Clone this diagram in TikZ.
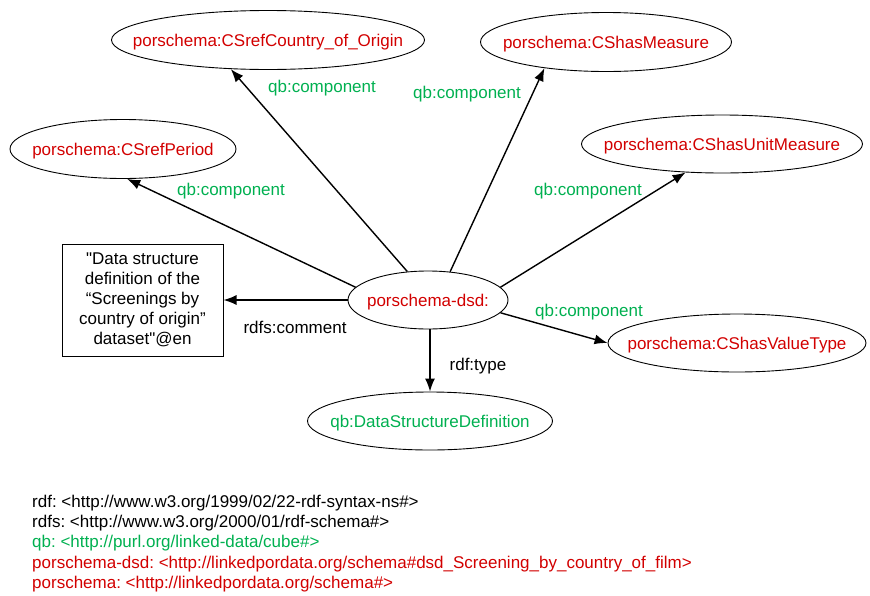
\documentclass[tikz,border=0pt]{standalone}
\usepackage{fontspec}
\setmainfont{Liberation Sans}
\usetikzlibrary{shapes.geometric,arrows.meta}
\definecolor{termred}{RGB}{210,0,0}
\definecolor{termgreen}{RGB}{0,176,80}
\frenchspacing
% label set inside an ellipse of fixed size: the text takes no room
\newcommand\termlabel[1]{\smash{\makebox[0pt]{\raisebox{-6.5pt}{#1}}}}
\tikzset{
  term/.style={ellipse, draw=black, line width=0.9pt, inner sep=0pt,
    font=\fontsize{17}{20}\selectfont, text=termred},
  qbterm/.style={term, text=termgreen},
  literal/.style={rectangle, draw=black, line width=1pt, inner sep=0pt,
    align=center, font=\fontsize{17}{20}\selectfont},
  rel/.style={line width=1.4pt, -{Latex[length=13pt,width=10pt]}},
  rellabel/.style={inner sep=0pt, font=\fontsize{17}{20}\selectfont},
  comp/.style={rellabel, text=termgreen},
  nsline/.style={anchor=base west, inner sep=0pt, font=\fontsize{17}{20}\selectfont}
}
\begin{document}
\begin{tikzpicture}[x=1pt, y=-1pt]
\useasboundingbox (0,0) rectangle (870,595);

% resources
\node[term, minimum width=313, minimum height=59] (country) at (268,40) {\termlabel{porschema:CSrefCountry\_of\_Origin}};
\node[term, minimum width=251, minimum height=59] (measure) at (606,42) {\termlabel{porschema:CShasMeasure}};
\node[term, minimum width=226, minimum height=59] (period) at (123,149) {\termlabel{porschema:CSrefPeriod}};
\node[term, minimum width=281, minimum height=58] (unit) at (722,144) {\termlabel{porschema:CShasUnitMeasure}};
\node[term, minimum width=160, minimum height=58] (dsd) at (428,300) {\termlabel{porschema-dsd:}};
\node[term, minimum width=258, minimum height=58] (valtype) at (737,343) {\termlabel{porschema:CShasValueType}};
\node[qbterm, minimum width=245, minimum height=58] (dsdef) at (430,421) {\termlabel{qb:DataStructureDefinition}};
\node[literal, minimum width=161, minimum height=112] (comment) at (142.5,300)
  {\textquotedbl Data structure\\definition of the\\“Screenings by\\country of origin”\\dataset\textquotedbl @en};

% properties
\draw[rel] (dsd.126) -- (country.218);
\draw[rel] (dsd.52) -- (measure.203);
\draw[rel] (dsd.170) -- (period.278);
\draw[rel] (dsd.10) -- (unit.218);
\draw[rel] (dsd.350) -- (valtype.west);
\draw[rel] (dsd.west) -- (comment.east);
\draw[rel] (dsd.south -| dsdef.north) -- (dsdef.north);

% property labels
\node[comp] (l1) at (322,88) {qb:component};
\node[comp] (l2) at (467,94) {qb:component};
\node[comp] (l3) at (231,191) {qb:component};
\node[comp] (l4) at (588,191) {qb:component};
\node[comp] (l5) at (589,312) {qb:component};
\node[rellabel] (l6) at (295,327) {rdfs:comment};
\node[rellabel] (l7) at (478,366) {rdf:type};

% namespace prefixes
\node[nsline] (p1) at (32,507) {rdf: <http://www.w3.org/1999/02/22-rdf-syntax-ns\#>};
\node[nsline] (p2) at (32,527) {rdfs: <http://www.w3.org/2000/01/rdf-schema\#>};
\node[nsline, text=termgreen] (p3) at (32,547) {qb: <http://purl.org/linked-data/cube\#>};
\node[nsline, text=termred] (p4) at (32,568) {porschema-dsd: <http://linkedpordata.org/schema\#dsd\_Screening\_by\_country\_of\_film>};
\node[nsline, text=termred] (p5) at (32,588) {porschema: <http://linkedpordata.org/schema\#>};
\end{tikzpicture}
\end{document}
